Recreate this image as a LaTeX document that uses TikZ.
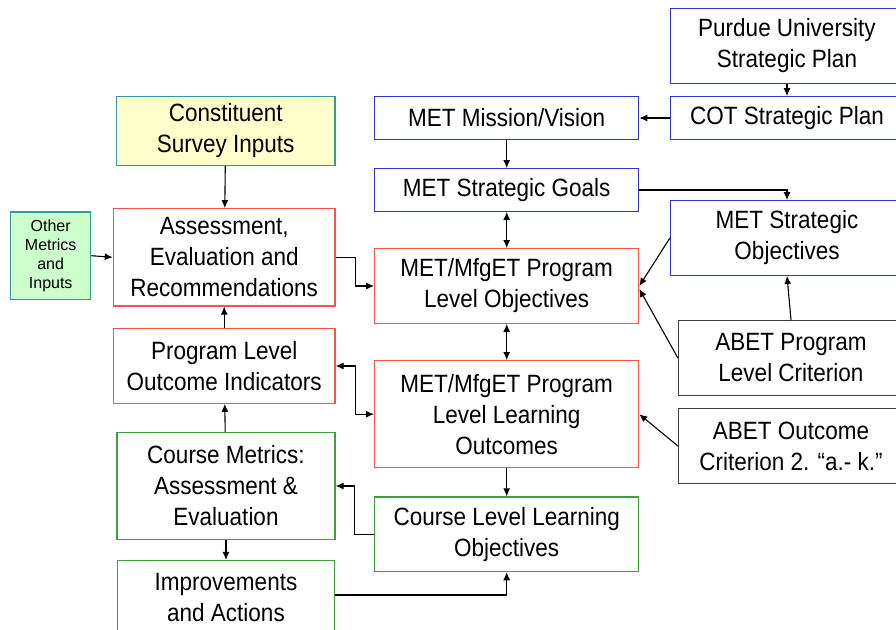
\documentclass[tikz,border=0pt]{standalone}
\usepackage{fontspec}
\setmainfont[FakeStretch=0.9]{Liberation Sans}
\newfontfamily\plainsans{Liberation Sans}
\usetikzlibrary{positioning,arrows.meta}

\definecolor{boxblue}{RGB}{51,51,204}
\definecolor{boxred}{RGB}{255,80,80}
\definecolor{boxgreen}{RGB}{60,160,60}
\definecolor{boxteal}{RGB}{51,153,153}
\definecolor{boxgray}{RGB}{64,64,64}
\definecolor{fillyellow}{RGB}{255,255,204}
\definecolor{fillgreen}{RGB}{204,255,204}

\begin{document}
\begin{tikzpicture} [x=1pt, y=-1pt, >={Latex[length=8pt,width=7pt]}, line width=1.1pt,
	block/.style={rectangle, draw, align=center, line width=1.2pt, font=\fontsize{25}{31}\selectfont},
	blueblock/.style={block, draw=boxblue, minimum width=264pt},
	redblock/.style={block, draw=boxred},
	greenblock/.style={block, draw=boxgreen},
	grayblock/.style={block, draw=boxgray, minimum width=225pt, minimum height=74.6pt}]
	
	\useasboundingbox (0,0) rectangle (896,629);
	\clip (0,0) rectangle (896,629);
	
	% center column
	\node [blueblock, minimum height=42.6pt] at (506.7,118) (mission) {MET Mission/Vision};
	\node [blueblock, below of=mission, minimum height=42.6pt, node distance=72pt] (goals) {MET Strategic Goals};
	\node [redblock, below of=goals, minimum width=264pt, minimum height=74.6pt, node distance=96pt] (plo) {MET/MfgET Program\\Level Objectives};
	\node [redblock, below of=plo, minimum width=264pt, minimum height=107pt, node distance=128.2pt] (lo) {MET/MfgET Program\\Level Learning\\Outcomes};
	\node [greenblock, below of=lo, minimum width=264pt, minimum height=74.7pt, node distance=120.1pt] (cll) {Course Level Learning\\Objectives};
	
	% left column
	\node [block, draw=boxteal, fill=fillyellow, minimum width=218.7pt, minimum height=68.6pt] at (225.7,131) (constit) {Constituent\\Survey Inputs};
	\node [redblock, minimum width=221.7pt, minimum height=97.3pt] at (224.2,257.3) (assess) {Assessment,\\Evaluation and\\Recommendations};
	\node [redblock, below of=assess, minimum width=221.7pt, minimum height=74.6pt, node distance=108.7pt] (indic) {Program Level\\Outcome Indicators};
	\node [greenblock, minimum width=218pt, minimum height=106.6pt] at (226,486) (cmetrics) {Course Metrics:\\Assessment \&\\Evaluation};
	\node [greenblock, below of=cmetrics, minimum width=216.4pt, minimum height=75pt, node distance=112pt] (improve) {Improvements\\and Actions};
	\node [rectangle, draw=boxteal, fill=fillgreen, line width=1.2pt, align=center, minimum width=80pt, minimum height=87.3pt, font=\plainsans\fontsize{16}{19}\selectfont] at (50.7,255.7) (other) {Other\\Metrics\\and\\Inputs};
	
	% right column
	\node [blueblock, minimum width=233pt, minimum height=74.3pt] at (787,46) (purdue) {Purdue University\\Strategic Plan};
	\node [blueblock, below of=purdue, minimum width=233pt, minimum height=42.6pt, node distance=72pt] (cot) {COT Strategic Plan};
	\node [blueblock, minimum width=233pt, minimum height=74.6pt] at (787,238) (stratobj) {MET Strategic\\Objectives};
	\node [grayblock] at (791,358) (abetprog) {ABET Program\\Level Criterion};
	\node [grayblock, below of=abetprog, node distance=88pt] (abetout) {ABET Outcome\\Criterion 2. “a.- k.”};
	
	% draw edges
	\draw [->] (purdue) -- (cot);
	\draw [->] (cot) -- (mission);
	\draw [->] (mission) -- (goals);
	\draw [->] (goals.east) -| (stratobj.north);
	\draw [<->] (goals) -- (plo);
	\draw [->] (stratobj.west) -- (plo.east);
	\draw [->] (abetprog.west) -- ([yshift=-3pt]plo.east);
	\draw [->] (abetprog.north) -- (stratobj.south);
	\draw [<->] (plo) -- (lo);
	\draw [->] (abetout.west) -- (lo.east);
	\draw [->] (lo) -- (cll);
	\draw [->] (constit) -- (assess);
	\draw [->] (other.east) -- (assess.west);
	\draw [->] (assess.east) -- ++(20,0) |- (plo.west);
	\draw [<->] (indic.east) -- ++(20,0) |- (lo.west);
	\draw [->] (indic) -- (assess);
	\draw [->] (cmetrics) -- (indic);
	\draw [->] (cll.west) -- ++(-20,0) |- (cmetrics.east);
	\draw [->] (cmetrics) -- (improve);
	\draw [->] ([yshift=3pt]improve.east) -| (cll.south);
\end{tikzpicture}
\end{document}
